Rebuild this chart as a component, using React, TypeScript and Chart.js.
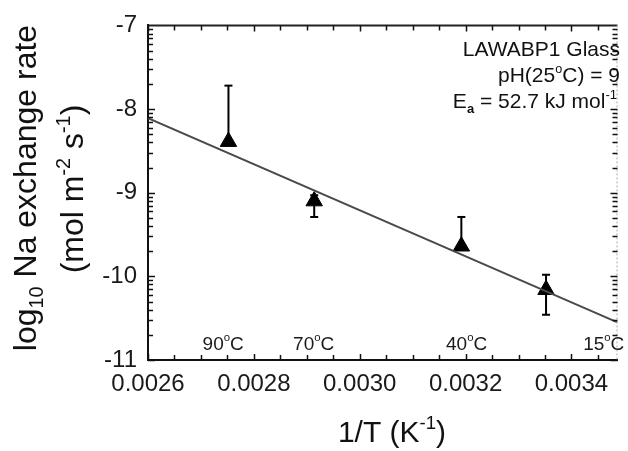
import React, { useEffect, useRef } from 'react';
import { Chart, registerables } from 'chart.js';
Chart.register(...registerables);

const W = 628;
const H = 451;

// Data (1/T in K^-1, log10 rate)
const invT = [0.002752, 0.002914, 0.003192, 0.003352];
const logRate = [-8.39, -9.1, -9.64, -10.16];
const errHigh = [-7.72, -9.03, -9.29, -9.98];
const errLow = [-8.39, -9.29, -9.64, -10.46];

// Arrhenius fit line end points
const fitX = [0.0026, 0.003487];
const fitY = [-8.11, -10.55];

// Axis
const xMin = 0.0026;
const xMax = 0.003487;
const yMin = -11;
const yMax = -7;
const xTicks = [0.0026, 0.0028, 0.003, 0.0032, 0.0034];
const yTicks = [-11, -10, -9, -8, -7];

// Temperature markers along the bottom
const tempLabels = ['90', '70', '40', '15'];
const tempLabelX = [0.002742, 0.002913, 0.003202, 0.003461];

const FONT = '"Liberation Sans", Arial, Helvetica, sans-serif';

type Seg = { t: string; s?: number; dy?: number; bold?: boolean };

function segFont(size: number, seg: Seg) {
  const sz = size * (seg.s ?? 1);
  return `${seg.bold ? 'bold ' : ''}${sz}px ${FONT}`;
}

function richWidth(ctx: CanvasRenderingContext2D, segs: Seg[], size: number) {
  let w = 0;
  for (const s of segs) {
    ctx.font = segFont(size, s);
    w += ctx.measureText(s.t).width;
  }
  return w;
}

function drawRich(
  ctx: CanvasRenderingContext2D,
  segs: Seg[],
  x: number,
  y: number,
  size: number,
  align: 'left' | 'center' | 'right',
  color: string
) {
  const w = richWidth(ctx, segs, size);
  let cx = align === 'left' ? x : align === 'center' ? x - w / 2 : x - w;
  ctx.fillStyle = color;
  ctx.textAlign = 'left';
  ctx.textBaseline = 'alphabetic';
  for (const s of segs) {
    ctx.font = segFont(size, s);
    ctx.fillText(s.t, cx, y + (s.dy ?? 0) * size);
    cx += ctx.measureText(s.t).width;
  }
}

const SUP = { s: 0.62, dy: -0.42 };
const SUB = { s: 0.62, dy: 0.22 };

const decorPlugin = {
  id: 'decor',
  beforeDatasetsDraw(chart: any) {
    const ctx: CanvasRenderingContext2D = chart.ctx;
    const xs = chart.scales.x;
    const ys = chart.scales.y;
    ctx.save();
    ctx.strokeStyle = '#000';
    ctx.lineWidth = 2;
    for (let i = 0; i < invT.length; i++) {
      const px = xs.getPixelForValue(invT[i]);
      const pt = ys.getPixelForValue(errHigh[i]);
      const pb = ys.getPixelForValue(errLow[i]);
      ctx.beginPath();
      ctx.moveTo(px, pt);
      ctx.lineTo(px, pb);
      ctx.stroke();
      const cap = 4;
      ctx.beginPath();
      ctx.moveTo(px - cap, pt);
      ctx.lineTo(px + cap, pt);
      if (errLow[i] !== logRate[i]) {
        ctx.moveTo(px - cap, pb);
        ctx.lineTo(px + cap, pb);
      }
      ctx.stroke();
    }
    ctx.restore();
  },
  afterDraw(chart: any) {
    const ctx: CanvasRenderingContext2D = chart.ctx;
    const xs = chart.scales.x;
    const ys = chart.scales.y;
    const a = chart.chartArea;
    ctx.save();

    // frame top and right
    ctx.strokeStyle = '#222';
    ctx.lineWidth = 2;
    ctx.beginPath();
    ctx.moveTo(a.left, a.top);
    ctx.lineTo(a.right, a.top);
    ctx.stroke();
    ctx.strokeStyle = '#aaa';
    ctx.lineWidth = 1;
    ctx.setLineDash([2, 2]);
    ctx.beginPath();
    ctx.moveTo(a.right - 0.5, a.top);
    ctx.lineTo(a.right - 0.5, a.bottom);
    ctx.stroke();
    ctx.setLineDash([]);

    // inward ticks
    ctx.strokeStyle = '#111';
    ctx.lineWidth = 1.5;
    ctx.beginPath();
    for (let i = 0; i <= 40; i++) {
      const v = xMin + i * 0.00005;
      if (v > xMax + 1e-9) break;
      const px = Math.round(xs.getPixelForValue(v)) + 0.5;
      const len = i % 4 === 0 ? 6 : 5;
      ctx.moveTo(px, a.bottom);
      ctx.lineTo(px, a.bottom - len);
      ctx.moveTo(px, a.top);
      ctx.lineTo(px, a.top + len);
    }
    for (let d = yMin; d < yMax; d++) {
      for (let k = 1; k <= 9; k++) {
        const v = d + Math.log10(k);
        const py = Math.round(ys.getPixelForValue(v)) + 0.5;
        const len = k === 1 ? 7 : 5;
        ctx.moveTo(a.left, py);
        ctx.lineTo(a.left + len, py);
        ctx.moveTo(a.right, py);
        ctx.lineTo(a.right - len, py);
      }
    }
    ctx.stroke();

    // temperature markers
    for (let i = 0; i < tempLabels.length; i++) {
      const px = xs.getPixelForValue(tempLabelX[i]);
      drawRich(
        ctx,
        [{ t: tempLabels[i] }, { t: 'o', s: 0.6, dy: -0.45 }, { t: 'C' }],
        px,
        350,
        19,
        'center',
        '#1a1a1a'
      );
    }

    // annotation
    const ax = 620;
    const af = 21;
    drawRich(ctx, [{ t: 'LAWABP1 Glass' }], ax, 56, af, 'right', '#111');
    drawRich(
      ctx,
      [{ t: 'pH(25' }, { t: 'o', s: 0.6, dy: -0.45 }, { t: 'C) = 9' }],
      ax,
      82,
      af,
      'right',
      '#111'
    );
    drawRich(
      ctx,
      [
        { t: 'E' },
        { t: 'a', s: 0.62, dy: 0.22, bold: true },
        { t: ' = 52.7 kJ mol' },
        { t: '-1', ...SUP },
      ],
      ax - 3,
      108,
      af,
      'right',
      '#111'
    );

    // x title
    drawRich(
      ctx,
      [{ t: '1/T (K' }, { t: '-1', ...SUP }, { t: ')' }],
      392,
      442,
      30,
      'center',
      '#111'
    );

    // y title (rotated)
    ctx.save();
    ctx.translate(36, 188);
    ctx.rotate(-Math.PI / 2);
    drawRich(
      ctx,
      [{ t: 'log' }, { t: '10', ...SUB }, { t: ' Na exchange rate' }],
      0,
      0,
      32,
      'center',
      '#111'
    );
    ctx.restore();
    ctx.save();
    ctx.translate(83, 189);
    ctx.rotate(-Math.PI / 2);
    drawRich(
      ctx,
      [
        { t: '(mol m' },
        { t: '-2', ...SUP },
        { t: ' s' },
        { t: '-1', ...SUP },
        { t: ')' },
      ],
      0,
      0,
      32,
      'center',
      '#111'
    );
    ctx.restore();

    ctx.restore();
  },
};

export default function App() {
  const ref = useRef<HTMLCanvasElement>(null);
  useEffect(() => {
    if (!ref.current) return;
    const chart = new Chart(ref.current, {
      type: 'scatter',
      data: {
        datasets: [
          {
            type: 'line',
            data: fitX.map((x, i) => ({ x, y: fitY[i] })),
            borderColor: '#4a4a4a',
            borderWidth: 2,
            pointRadius: 0,
            fill: false,
          } as any,
          {
            data: invT.map((x, i) => ({ x, y: logRate[i] })),
            pointStyle: 'triangle',
            pointRadius: 9.5,
            borderWidth: 1,
            backgroundColor: '#000',
            borderColor: '#000',
          },
        ],
      },
      options: {
        animation: false,
        responsive: false,
        maintainAspectRatio: false,
        plugins: { legend: { display: false }, tooltip: { enabled: false } },
        layout: { padding: { top: 19, right: 1, left: 0, bottom: 0 } },
        scales: {
          x: {
            type: 'linear',
            min: xMin,
            max: xMax,
            grid: { display: false, drawTicks: false },
            border: { display: true, color: '#111', width: 2 },
            ticks: {
              padding: 10,
              color: '#1a1a1a',
              font: { family: FONT, size: 24 },
              callback: (v: any) => Number(v).toFixed(4),
              maxRotation: 0,
              autoSkip: false,
            },
            afterBuildTicks: (s: any) => {
              s.ticks = xTicks.map((value) => ({ value }));
            },
            afterFit: (s: any) => {
              s.height = 91;
            },
          },
          y: {
            type: 'linear',
            min: yMin,
            max: yMax,
            grid: { display: false, drawTicks: false },
            border: { display: true, color: '#111', width: 2 },
            ticks: {
              padding: 11,
              color: '#1a1a1a',
              font: { family: FONT, size: 24 },
              callback: (v: any) => String(v),
            },
            afterBuildTicks: (s: any) => {
              s.ticks = yTicks.map((value) => ({ value }));
            },
            afterFit: (s: any) => {
              s.width = 148;
            },
          },
        },
      },
      plugins: [decorPlugin],
    });
    return () => chart.destroy();
  }, []);
  return (
    <div style={{ position: 'absolute', left: 0, top: 0, width: W, height: H, background: '#fff' }}>
      <canvas ref={ref} width={W} height={H} style={{ width: W, height: H, display: 'block' }} />
    </div>
  );
}
